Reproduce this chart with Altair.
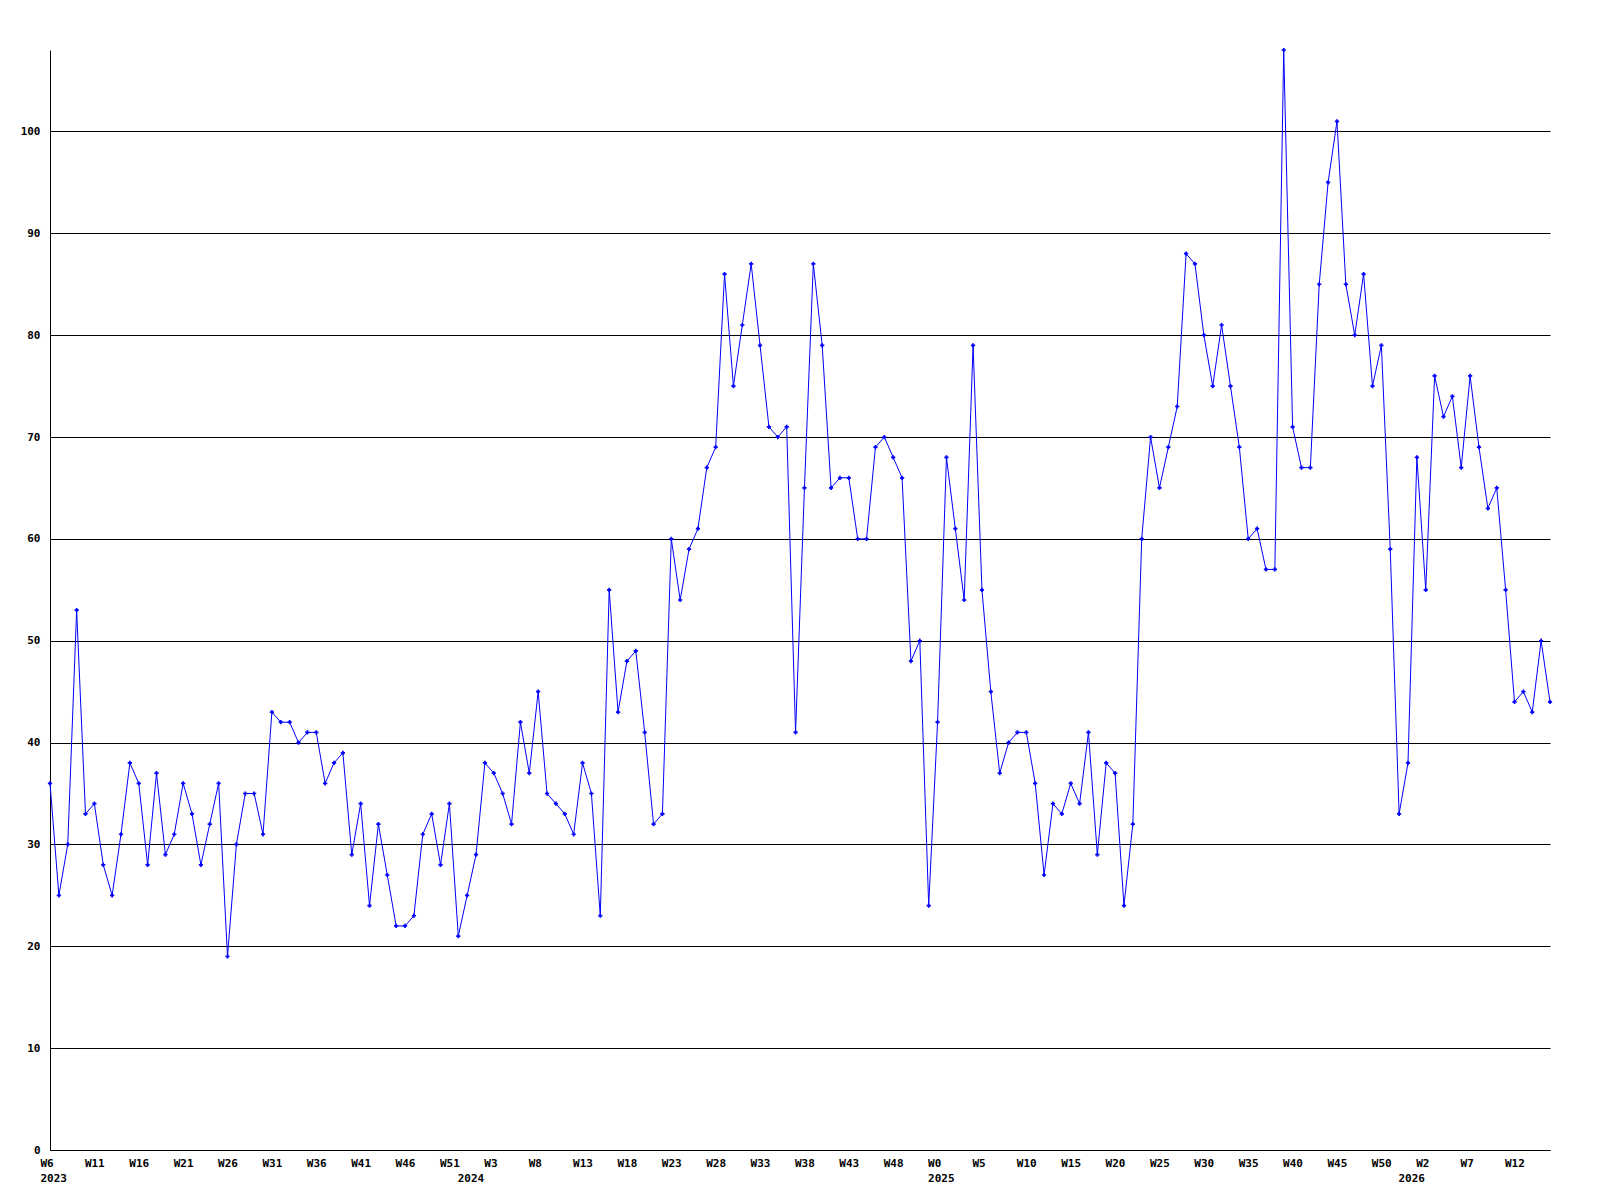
import altair as alt
import pandas as pd

values = [
    36, 25, 30, 53, 33, 34, 28, 25, 31, 38,
    36, 28, 37, 29, 31, 36, 33, 28, 32, 36,
    19, 30, 35, 35, 31, 43, 42, 42, 40, 41,
    41, 36, 38, 39, 29, 34, 24, 32, 27, 22,
    22, 23, 31, 33, 28, 34, 21, 25, 29, 38,
    37, 35, 32, 42, 37, 45, 35, 34, 33, 31,
    38, 35, 23, 55, 43, 48, 49, 41, 32, 33,
    60, 54, 59, 61, 67, 69, 86, 75, 81, 87,
    79, 71, 70, 71, 41, 65, 87, 79, 65, 66,
    66, 60, 60, 69, 70, 68, 66, 48, 50, 24,
    42, 68, 61, 54, 79, 55, 45, 37, 40, 41,
    41, 36, 27, 34, 33, 36, 34, 41, 29, 38,
    37, 24, 32, 60, 70, 65, 69, 73, 88, 87,
    80, 75, 81, 75, 69, 60, 61, 57, 57, 108,
    71, 67, 67, 85, 95, 101, 85, 80, 86, 75,
    79, 59, 33, 38, 68, 55, 76, 72, 74, 67,
    76, 69, 63, 65, 55, 44, 45, 43, 50, 44,
]

# week tick labels, one every 5 weeks starting at the first point
week_labels = [
    "W6", "W11", "W16", "W21", "W26", "W31", "W36", "W41", "W46", "W51",
    "W3", "W8", "W13", "W18", "W23", "W28", "W33", "W38", "W43", "W48",
    "W0", "W5", "W10", "W15", "W20", "W25", "W30", "W35", "W40", "W45",
    "W50", "W2", "W7", "W12",
]
# year labels at the index of the first week of each year
year_positions = [0, 47, 100, 153]
year_names = ["2023", "2024", "2025", "2026"]

y_ticks = list(range(0, 101, 10))

n = len(values)
df = pd.DataFrame({"idx": list(range(n)), "value": values})

week_arr = [""] * n
for i, w in enumerate(week_labels):
    week_arr[i * 5] = w
year_arr = [""] * n
for p, y in zip(year_positions, year_names):
    year_arr[p] = y

tick_positions = sorted(set([i * 5 for i in range(len(week_labels))] + year_positions))
weeks_js = "[" + ",".join("'%s'" % w for w in week_arr) + "]"
years_js = "[" + ",".join("'%s'" % y for y in year_arr) + "]"
label_expr = f"[{weeks_js}[round(datum.value)], {years_js}[round(datum.value)]]"

FONT = "DejaVu Sans Mono"

x_enc = alt.X(
    "idx:Q",
    scale=alt.Scale(domain=[0, n - 1], nice=False, zero=False),
    axis=alt.Axis(
        values=tick_positions,
        labelExpr=label_expr,
        title=None,
        grid=False,
        ticks=False,
        tickSize=0,
        labelAlign="left",
        labelOffset=-10,
        labelBaseline="top",
        labelPadding=7,
        labelLineHeight=15,
        labelFont=FONT,
        labelFontSize=11,
        labelFontWeight="bold",
        labelColor="black",
        domainColor="black",
        domainWidth=1,
        labelOverlap=False,
        labelFlush=False,
    ),
)
y_enc = alt.Y(
    "value:Q",
    scale=alt.Scale(domain=[0, 108], nice=False),
    axis=alt.Axis(
        values=y_ticks,
        title=None,
        grid=True,
        gridColor="black",
        gridOpacity=1,
        gridWidth=1,
        ticks=False,
        tickSize=0,
        labelPadding=10,
        labelFont=FONT,
        labelFontSize=11,
        labelFontWeight="bold",
        labelColor="black",
        domainColor="black",
        domainWidth=1,
        labelOverlap=False,
    ),
)

line = alt.Chart(df).mark_line(color="#0000ff", strokeWidth=1).encode(x=x_enc, y=y_enc)
pts = alt.Chart(df).mark_point(
    shape="cross", filled=True, color="#0000ff", size=18, opacity=1
).encode(x="idx:Q", y="value:Q")

chart = (
    alt.layer(line, pts)
    .properties(
        width=1500,
        height=1100,
        autosize=alt.AutoSizeParams(type="none"),
        padding={"left": 42, "top": 42, "right": 40, "bottom": 50},
        background="white",
    )
    .configure_view(stroke=None)
)

chart.save("out.html", embed_options={"renderer": "svg", "actions": False})
